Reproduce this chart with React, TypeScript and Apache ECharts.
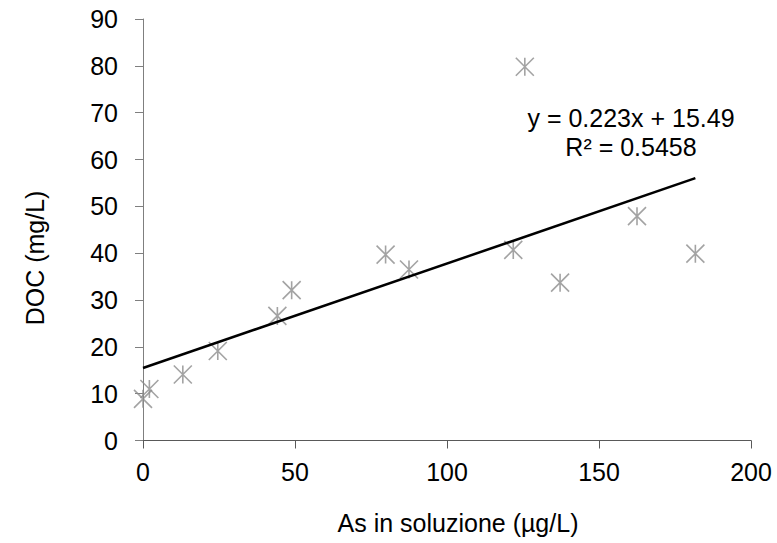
import React, { useEffect, useRef } from "react";
import * as echarts from "echarts";

const asValues = [0, 2.1, 13.1, 24.6, 44.2, 48.9, 79.8, 87.5, 121.8, 125.6, 137.2, 162.5, 181.7];
const docValues = [8.9, 11.0, 14.1, 19.1, 26.6, 32.1, 39.7, 36.5, 40.7, 79.8, 33.7, 47.9, 39.9];
const SLOPE = 0.223;
const INTERCEPT = 15.49;
const eqLabel = "y = 0.223x + 15.49";
const r2Label = "R² = 0.5458";
const xTitle = "As in soluzione (µg/L)";
const yTitle = "DOC (mg/L)";

const FONT = "'Liberation Sans', Arial, sans-serif";

export default function App() {
  const ref = useRef<HTMLDivElement>(null);
  useEffect(() => {
    if (!ref.current) return;
    const chart = echarts.init(ref.current, undefined, { renderer: "svg" });
    const points = asValues.map((x, i) => [x, docValues[i]]);
    const xMin = Math.min(...asValues);
    const xMax = Math.max(...asValues);
    const trend = [
      [xMin, SLOPE * xMin + INTERCEPT],
      [xMax, SLOPE * xMax + INTERCEPT],
    ];
    chart.setOption({
      animation: false,
      backgroundColor: "#ffffff",
      grid: { left: 143, right: 26, top: 19, bottom: 102.5, containLabel: false },
      xAxis: {
        type: "value",
        min: 0,
        max: 200,
        interval: 50,
        splitLine: { show: false },
        axisLine: { show: true, onZero: false, lineStyle: { color: "#595959", width: 1 } },
        axisTick: { show: true, inside: false, length: 8, lineStyle: { color: "#595959" } },
        axisLabel: { margin: 19, fontSize: 25, color: "#000", fontFamily: FONT },
      },
      yAxis: {
        type: "value",
        min: 0,
        max: 90,
        interval: 10,
        splitLine: { show: false },
        axisLine: { show: true, onZero: false, lineStyle: { color: "#7f7f7f", width: 1 } },
        axisTick: { show: true, inside: false, length: 8, lineStyle: { color: "#7f7f7f" } },
        axisLabel: { margin: 25, fontSize: 25, color: "#000", fontFamily: FONT },
      },
      series: [
        {
          type: "scatter",
          data: points,
          symbol: "path://M-1,-1L1,1M1,-1L-1,1M0,-1L0,1",
          symbolSize: 18,
          itemStyle: { color: "transparent", borderColor: "#8c8c8c", borderWidth: 1.6 },
          z: 2,
        },
        {
          type: "line",
          data: trend,
          symbol: "none",
          lineStyle: { color: "#000", width: 2.5 },
          z: 3,
        },
      ],
      graphic: [
        {
          type: "text",
          x: 631,
          y: 118,
          style: { text: eqLabel, fontSize: 25, fontFamily: FONT, fill: "#000", textAlign: "center", textVerticalAlign: "middle" },
        },
        {
          type: "text",
          x: 631,
          y: 147,
          style: { text: r2Label, fontSize: 25, fontFamily: FONT, fill: "#000", textAlign: "center", textVerticalAlign: "middle" },
        },
        {
          type: "text",
          x: 458,
          y: 523,
          style: { text: xTitle, fontSize: 25, fontFamily: FONT, fill: "#000", textAlign: "center", textVerticalAlign: "middle" },
        },
        {
          type: "text",
          x: 35,
          y: 258,
          rotation: Math.PI / 2,
          style: { text: yTitle, fontSize: 25, fontFamily: FONT, fill: "#000", textAlign: "center", textVerticalAlign: "middle" },
        },
      ],
    });
    return () => chart.dispose();
  }, []);
  return <div ref={ref} style={{ position: "fixed", left: 0, top: 0, width: 777, height: 543 }} />;
}
